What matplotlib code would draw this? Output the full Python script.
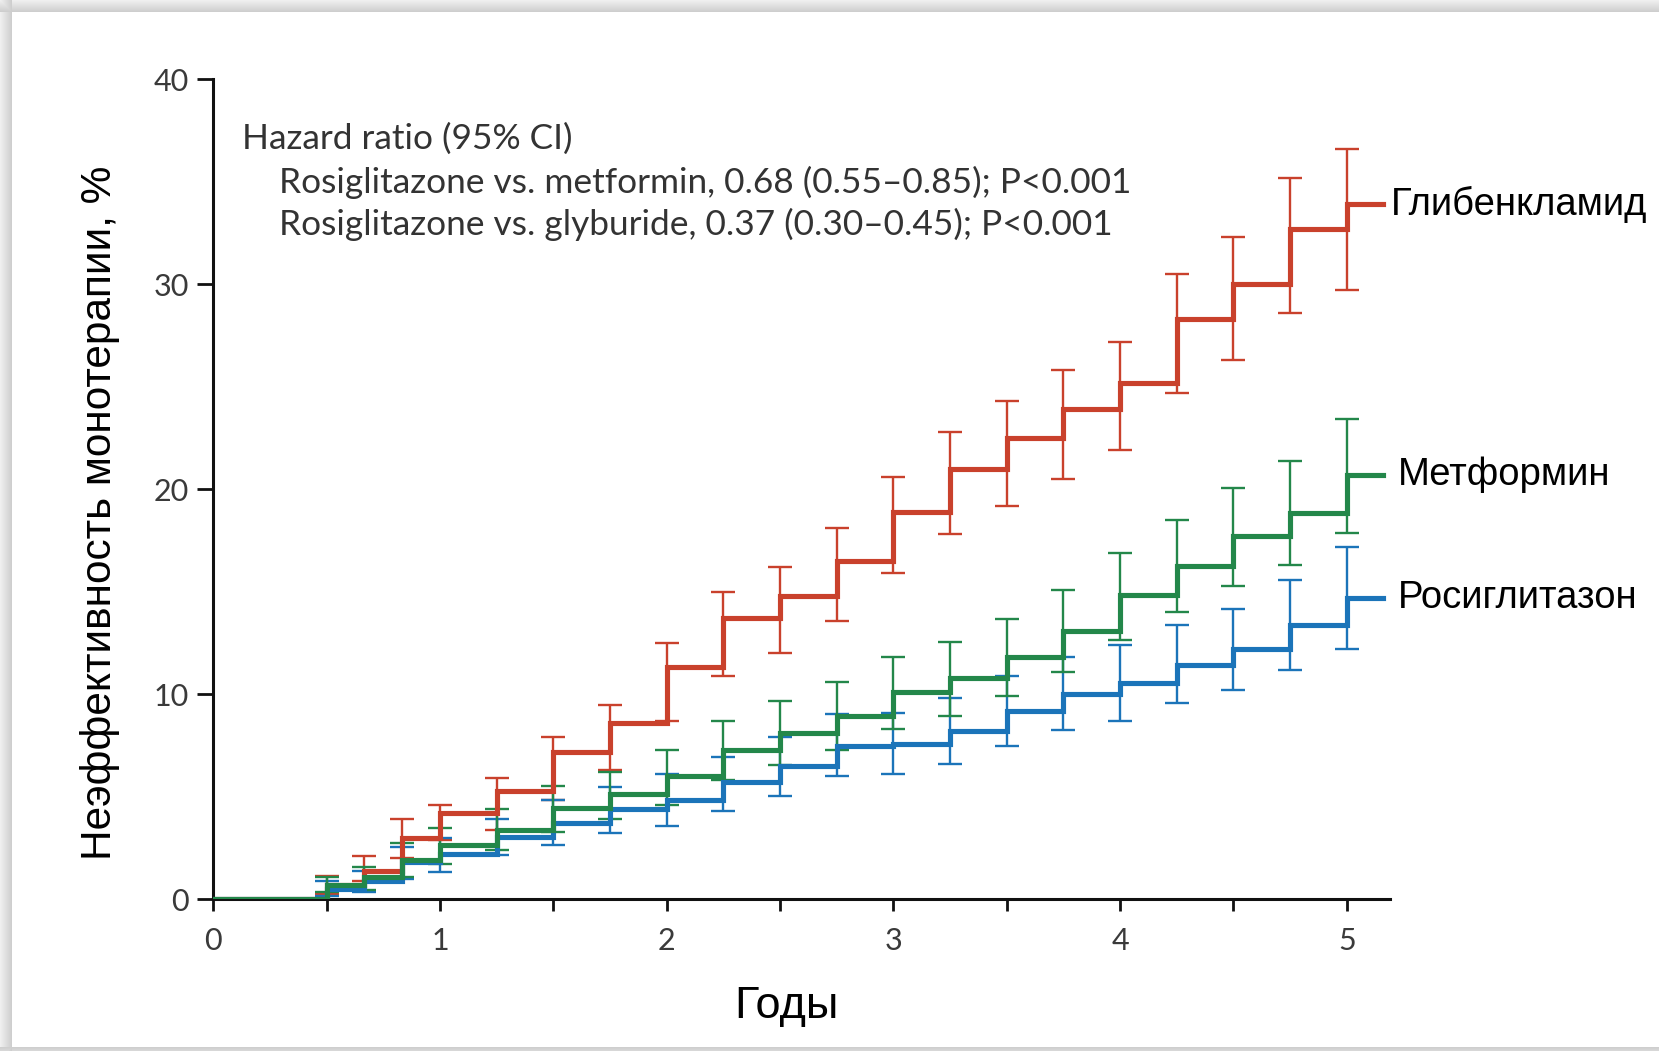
import numpy as np
import matplotlib
matplotlib.use("Agg")
import matplotlib.pyplot as plt

# Step times (years) at which the cumulative curves change
times = [0.5, 2/3, 5/6, 1.0, 1.25, 1.5, 1.75, 2.0, 2.25, 2.5, 2.75,
         3.0, 3.25, 3.5, 3.75, 4.0, 4.25, 4.5, 4.75, 5.0]
end_time = 5.16

# Cumulative incidence of monotherapy failure, %
glyb = [0.7, 1.4, 3.0, 4.2, 5.3, 7.2, 8.6, 11.35, 13.7, 14.8, 16.5,
        18.9, 21.0, 22.5, 23.9, 25.2, 28.3, 30.0, 32.7, 33.9]
glyb_hi = [1.15, 2.1, 3.9, 4.6, 5.9, 7.9, 9.5, 12.5, 15.0, 16.2, 18.1,
           20.6, 22.8, 24.3, 25.8, 27.2, 30.5, 32.3, 35.2, 36.6]
glyb_lo = [0.26, 0.9, 2.0, 2.9, 3.4, 4.85, 6.3, 8.7, 10.9, 12.0, 13.6,
           15.9, 17.8, 19.2, 20.5, 21.9, 24.7, 26.3, 28.6, 29.7]

metf = [0.7, 1.1, 1.9, 2.65, 3.4, 4.45, 5.15, 6.0, 7.3, 8.1, 8.95,
        10.1, 10.8, 11.8, 13.1, 14.85, 16.25, 17.7, 18.85, 20.7]
metf_hi = [1.1, 1.6, 2.75, 3.5, 4.4, 5.55, 6.2, 7.3, 8.7, 9.65, 10.6,
           11.8, 12.55, 13.65, 15.1, 16.9, 18.5, 20.05, 21.4, 23.45]
metf_lo = [0.35, 0.45, 1.1, 1.7, 2.4, 3.3, 3.9, 4.6, 5.8, 6.55, 7.3,
           8.3, 8.95, 9.9, 11.1, 12.65, 14.0, 15.3, 16.3, 17.85]

rosi = [0.5, 0.9, 1.8, 2.2, 3.05, 3.7, 4.4, 4.85, 5.7, 6.5, 7.5,
        7.6, 8.2, 9.2, 10.0, 10.55, 11.45, 12.2, 13.4, 14.7]
rosi_hi = [0.9, 1.4, 2.55, 3.0, 3.9, 4.85, 5.5, 6.1, 6.95, 7.9, 9.05,
           9.1, 9.8, 10.9, 11.8, 12.4, 13.4, 14.15, 15.6, 17.2]
rosi_lo = [0.15, 0.35, 1.0, 1.35, 2.15, 2.65, 3.25, 3.6, 4.3, 5.05, 6.0,
           6.1, 6.6, 7.5, 8.25, 8.7, 9.6, 10.2, 11.2, 12.2]

names = ["Глибенкламид", "Метформин", "Росиглитазон"]
x_ticks = [0, 1, 2, 3, 4, 5]
y_ticks = [0, 10, 20, 30, 40]

hr_title = "Hazard ratio (95% CI)"
hr_lines = ["Rosiglitazone vs. metformin, 0.68 (0.55\u20130.85); P<0.001",
            "Rosiglitazone vs. glyburide, 0.37 (0.30\u20130.45); P<0.001"]

c_red = "#c9412c"
c_green = "#23874a"
c_blue = "#1b74b9"

W, H = 1659, 1051
fig = plt.figure(figsize=(W / 100, H / 100), dpi=100)
fig.patch.set_facecolor("white")

# Page background: grey surround with a soft shadow around a white card
bg = np.ones((H, W, 3))
yy, xx = np.mgrid[0:H, 0:W]
card_x0, card_y0, card_y1 = 12, 12, 1046
outside = (xx < card_x0) | (yy < card_y0) | (yy > card_y1)
dist = np.minimum(np.where(xx < card_x0, card_x0 - xx, 99),
                  np.where(yy < card_y0, card_y0 - yy, 99))
dist = np.minimum(dist, np.where(yy > card_y1, yy - card_y1, 99))
shade = 0.80 + 0.14 * np.clip(dist / 12.0, 0, 1)
for k in range(3):
    bg[..., k] = np.where(outside, shade, 1.0)
fig.figimage(bg, xo=0, yo=0, origin="upper", zorder=-5)

px_per_year = 226.7
ax_left, ax_bottom = 213.3 / W, (H - 899.3) / H
ax_w = 5.19 * px_per_year / W
ax_h = 820 / H
ax = fig.add_axes([ax_left, ax_bottom, ax_w, ax_h])
ax.set_facecolor("none")

# Drawn in order: glyburide, rosiglitazone, metformin (metformin on top)
series = [
    (glyb, glyb_lo, glyb_hi, c_red),
    (rosi, rosi_lo, rosi_hi, c_blue),
    (metf, metf_lo, metf_hi, c_green),
]
for i, (vals, lo, hi, col) in enumerate(series):
    v = np.asarray(vals)
    xs = [0] + list(times) + [end_time]
    ys = [0] + list(v) + [v[-1]]
    ax.errorbar(times, v, yerr=[v - np.asarray(lo), np.asarray(hi) - v],
                fmt="none", ecolor=col, elinewidth=1.7, capsize=8.5,
                capthick=1.7, zorder=2 + i * 0.1)
    ax.step(xs, ys, where="post", color=col, lw=3.7, zorder=3 + i * 0.1,
            solid_joinstyle="miter")

# End-of-curve labels
label_y = [glyb[-1], metf[-1], rosi[-1]]
label_x = [5.195, 5.225, 5.225]
for name, lx, ly in zip(names, label_x, label_y):
    ax.text(lx, ly, name, fontsize=27.5, family="Liberation Sans",
            color="black", va="center", ha="left", clip_on=False)

# Hazard ratio annotation
txt_kw = dict(family="Lato", color="#333333", fontsize=25.4, va="center")
ax.text(0.125, 37.1, hr_title, **txt_kw)
ax.text(0.29, 34.95, hr_lines[0], **txt_kw)
ax.text(0.29, 32.9, hr_lines[1], **txt_kw)

ax.set_xlim(0, 5.19)
ax.set_ylim(0, 40)
half_steps = np.arange(0, 11) * 0.5
ax.set_xticks(half_steps)
ax.set_xticklabels([f"{t:.0f}" if float(t).is_integer() else "" for t in half_steps])
ax.set_yticks(y_ticks)
ax.set_yticklabels([str(t) for t in y_ticks])

for side in ["top", "right"]:
    ax.spines[side].set_visible(False)
for side in ["left", "bottom"]:
    ax.spines[side].set_linewidth(2.2)
    ax.spines[side].set_color("#111111")

ax.tick_params(axis="x", length=8.6, width=2.0, pad=11, color="#111111",
               labelsize=22, labelcolor="#3a3a3a")
ax.tick_params(axis="y", length=11.5, width=2.0, pad=6, color="#111111",
               labelsize=22, labelcolor="#3a3a3a")
for lab in ax.get_xticklabels() + ax.get_yticklabels():
    lab.set_family("Lato")

ax.set_ylabel("Неэффективность монотерапии, %", family="Liberation Sans",
              fontsize=30.5, color="black")
ax.yaxis.set_label_coords(-0.0795, 0.471)
ax.set_xlabel("Годы", family="Liberation Sans", fontsize=32.5, color="black")
ax.xaxis.set_label_coords(0.487, -0.1057)

fig.savefig("out.png", dpi=100)
